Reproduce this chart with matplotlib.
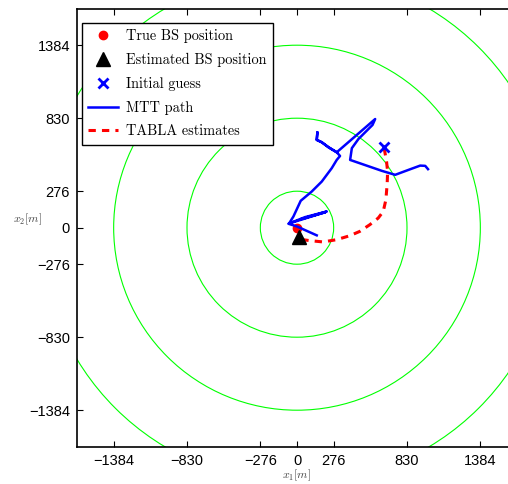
import matplotlib
matplotlib.use("Agg")
import matplotlib.pyplot as plt
from matplotlib.patches import Circle
from matplotlib.lines import Line2D

plt.rcParams["mathtext.fontset"] = "cm"

# Base station positions and starting point [m]
true_bs = (0.0, 0.0)
est_bs = (15.0, -68.0)
initial_guess = (655.0, 610.0)

# Mobile terminal tracked path [m]
mtt_x = [149, -2, -65, 60, 225, 30, 215, -60, -27, 28, 111, 187, 262, 300, 325,
         300, 238, 187, 149, 154, 149, 187, 238, 300, 590, 570, 464, 414, 401,
         641, 741, 843, 930, 968, 989]
mtt_y = [-58, 10, 30, 80, 123, 65, 118, 32, 85, 204, 274, 350, 451, 514, 544,
         572, 610, 648, 666, 724, 666, 648, 610, 572, 824, 779, 673, 603, 514,
         431, 401, 439, 471, 469, 444]

# TABLA position estimates [m]
tabla_x = [658, 676, 684, 681, 671, 651, 613, 550, 474, 398, 298, 197, 96, 45, 15]
tabla_y = [603, 502, 426, 338, 212, 123, 73, 23, -28, -61, -91, -108, -98, -91, -68]

# Range rings around the true base station [m]
ring_radii = [276.8, 830.4, 1384.0, 1937.6]

# Axes ticks
tick_values = [-1384, -830, -276, 0, 276, 830, 1384]
tick_labels = ["\u22121384", "\u2212830", "\u2212276", "0", "276", "830", "1384"]
axis_limit = 1660.8

W, H = 508, 484
fig = plt.figure(figsize=(W / 100, H / 100), dpi=100)
ax = fig.add_axes([77 / W, 1 - 446.7 / H, 440 / W, 438 / H])

dash_style = (0, (2.4, 2.0))

for r in ring_radii:
    ax.add_patch(Circle(true_bs, r, fill=False, edgecolor=(0, 1, 0), lw=0.8, zorder=1))

ax.plot(*true_bs, "o", color="red", ms=6, zorder=2)
ax.plot(mtt_x, mtt_y, "-", color="blue", lw=1.8, zorder=3)
ax.plot(tabla_x, tabla_y, color="red", lw=2.2, linestyle=dash_style, zorder=4)
ax.plot(*est_bs, "^", color="black", ms=10, zorder=5)
ax.plot(*initial_guess, "x", color="blue", ms=7, mew=2, zorder=6)

ax.set_xlim(-axis_limit, axis_limit)
ax.set_ylim(-axis_limit, axis_limit)
ax.set_xticks(tick_values)
ax.set_xticklabels(tick_labels)
ax.set_yticks(tick_values)
ax.set_yticklabels(tick_labels)
ax.tick_params(direction="in", length=4, width=0.8, top=True, right=True,
               labelsize=10.5, pad=5)
for lab in ax.get_xticklabels() + ax.get_yticklabels():
    lab.set_fontfamily("Liberation Sans")
for sp in ax.spines.values():
    sp.set_linewidth(1.2)

handles = [
    Line2D([], [], ls="none", marker="o", color="red", ms=6),
    Line2D([], [], ls="none", marker="^", color="black", ms=10),
    Line2D([], [], ls="none", marker="x", color="blue", ms=7, mew=2),
    Line2D([], [], color="blue", lw=1.8),
    Line2D([], [], color="red", lw=2.2, linestyle=dash_style),
]
labels = ["True BS position", "Estimated BS position", "Initial guess",
          "MTT path", "TABLA estimates"]
leg = ax.legend(handles, labels, loc="upper left",
                bbox_to_anchor=(82 / W, 1 - 23 / H), bbox_transform=fig.transFigure,
                borderaxespad=0, fancybox=False, framealpha=1, edgecolor="black",
                prop={"family": "cmr10", "size": 10.3}, handlelength=2.1,
                handletextpad=0.5, labelspacing=0.68, borderpad=0.45)
leg.get_frame().set_linewidth(1.0)

fig.text(297 / W, 1 - 475 / H, r"$x_1[m]$", ha="center", va="center",
         fontsize=8.5, color="#444444")
fig.text(28 / W, 1 - 219 / H, r"$x_2[m]$", ha="center", va="center",
         fontsize=8.5, color="#444444")

fig.savefig("out.png", dpi=100)
